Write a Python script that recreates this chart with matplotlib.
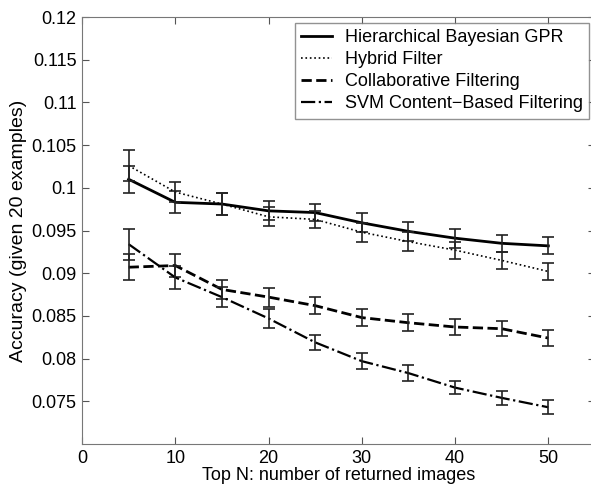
import matplotlib
matplotlib.use('Agg')
import matplotlib.pyplot as plt

plt.rcParams['font.family'] = ['Liberation Sans', 'DejaVu Sans']

top_n = [5, 10, 15, 20, 25, 30, 35, 40, 45, 50]

gpr = [0.1010, 0.0983, 0.0981, 0.0973, 0.0971, 0.0959, 0.0949, 0.0941, 0.0935, 0.0932]
gpr_err = [0.0016, 0.0013, 0.0013, 0.0011, 0.0010, 0.0011, 0.0011, 0.0011, 0.0010, 0.0010]

hybrid = [0.1026, 0.0995, 0.0981, 0.0966, 0.0963, 0.0948, 0.0937, 0.0927, 0.0915, 0.0902]
hybrid_err = [0.0018, 0.0012, 0.0013, 0.0011, 0.0010, 0.0011, 0.0011, 0.0010, 0.0010, 0.0010]

collab = [0.0907, 0.0909, 0.0881, 0.0872, 0.0862, 0.0848, 0.0842, 0.0837, 0.0835, 0.0824]
collab_err = [0.0015, 0.0014, 0.0011, 0.0011, 0.0010, 0.0010, 0.0010, 0.0009, 0.0009, 0.0009]

svm = [0.0934, 0.0895, 0.0872, 0.0847, 0.0819, 0.0797, 0.0783, 0.0766, 0.0754, 0.0743]
svm_err = [0.0018, 0.0014, 0.0012, 0.0011, 0.0009, 0.0009, 0.0009, 0.0008, 0.0008, 0.0008]

series = [
    ('Hierarchical Bayesian GPR', gpr, gpr_err, '-', 2.0),
    ('Hybrid Filter', hybrid, hybrid_err, ':', 1.2),
    ('Collaborative Filtering', collab, collab_err, '--', 2.0),
    ('SVM Content\u2212Based Filtering', svm, svm_err, '-.', 1.6),
]

fig = plt.figure(figsize=(5.91, 4.90), dpi=100)
# right spine sits just past the right edge of the picture, as in the original
ax = fig.add_axes([82 / 591, 1 - 444 / 490, 513 / 591, 427 / 490])

for label, vals, errs, ls, lw in series:
    ax.plot(top_n, vals, linestyle=ls, color='black', linewidth=lw, label=label)
    ax.errorbar(top_n, vals, yerr=errs, fmt='none', ecolor='#222222',
                elinewidth=1.2, capsize=4, capthick=1.2)

ax.set_xlim(0, 55)
ax.set_ylim(0.07, 0.12)
ax.set_xticks([0, 10, 20, 30, 40, 50])
ax.set_yticks([0.075, 0.08, 0.085, 0.09, 0.095, 0.1, 0.105, 0.11, 0.115, 0.12])
ax.set_yticklabels(['0.075', '0.08', '0.085', '0.09', '0.095', '0.1', '0.105', '0.11', '0.115', '0.12'])
ax.tick_params(direction='in', top=True, right=True, labelsize=13, length=5,
               color='#555555', pad=4)
for spine in ax.spines.values():
    spine.set_color('#777777')

ax.set_xlabel('Top N: number of returned images', fontsize=13, labelpad=0)
ax.set_ylabel('Accuracy (given 20 examples)', fontsize=14, labelpad=3)

leg = ax.legend(loc='upper right', bbox_to_anchor=(0.988, 0.986), borderaxespad=0,
                fontsize=13, frameon=True, fancybox=False, edgecolor='#777777',
                handlelength=1.7, labelspacing=0.28, borderpad=0.35, handletextpad=0.7)
leg.get_frame().set_linewidth(1.0)

fig.savefig('out.png', dpi=100)
